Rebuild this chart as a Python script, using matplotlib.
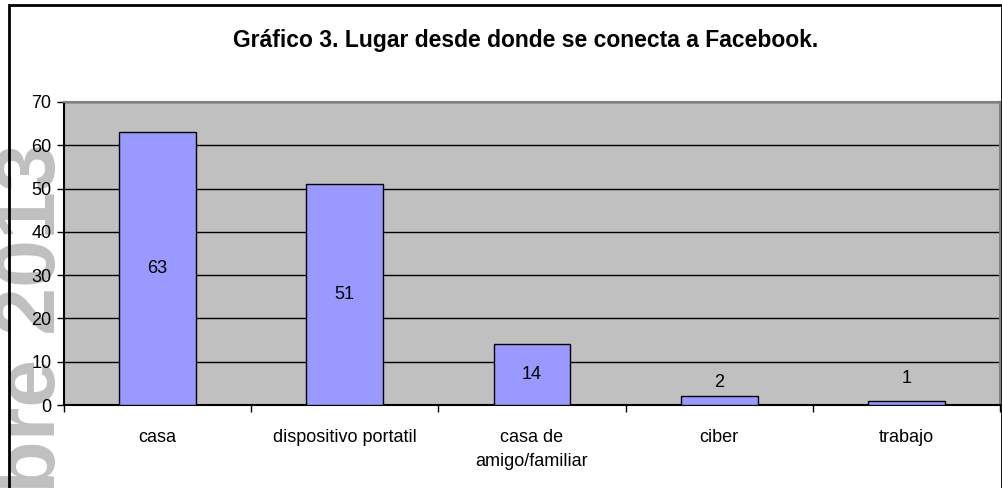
import matplotlib
matplotlib.use('Agg')
import matplotlib.pyplot as plt
from matplotlib.patches import Rectangle
from matplotlib.ticker import FixedLocator, NullFormatter

# Datos del gráfico
categorias = ['casa', 'dispositivo portatil', 'casa de\namigo/familiar', 'ciber', 'trabajo']
valores = [63, 51, 14, 2, 1]
titulo = 'Gráfico 3. Lugar desde donde se conecta a Facebook.'
marca_agua = 'Octubre 2013'

plt.rcParams['font.family'] = ['Liberation Sans', 'DejaVu Sans']

fig = plt.figure(figsize=(10.03, 4.88), dpi=100)
fig.patch.set_facecolor('white')

# marca de agua al fondo, parcialmente cubierta por el área de trazado
fig.text(55 / 1003, 1 - 143 / 488, marca_agua, rotation=90, rotation_mode='anchor',
         ha='right', va='baseline', fontsize=62, fontweight='bold',
         color='#C0C0C0', zorder=-5)

ax = fig.add_axes([64 / 1003, 1 - 405 / 488, 936 / 1003, 303 / 488])
ax.set_facecolor('#C0C0C0')

x = list(range(len(categorias)))
ax.bar(x, valores, width=0.41, color='#9999FF', edgecolor='black', linewidth=1, zorder=3)

ax.set_xlim(-0.5, len(categorias) - 0.5)
ax.set_ylim(0, 70)
ax.set_yticks(range(0, 71, 10))
ax.yaxis.grid(True, color='black', linewidth=1)
ax.set_axisbelow(True)

# ticks de categorías entre barras, etiquetas centradas
ax.xaxis.set_major_locator(FixedLocator([i - 0.5 for i in range(len(categorias) + 1)]))
ax.xaxis.set_major_formatter(NullFormatter())
ax.xaxis.set_minor_locator(FixedLocator(x))
ax.set_xticklabels(categorias, minor=True, fontsize=13, linespacing=1.55)
ax.tick_params(axis='x', which='major', direction='out', length=5, width=1)
ax.tick_params(axis='x', which='minor', length=0, pad=17)
ax.tick_params(axis='y', direction='out', length=5, width=1, pad=4, labelsize=13)

for s in ['left', 'bottom']:
    ax.spines[s].set_color('black')
    ax.spines[s].set_linewidth(1.5)
for s in ['top', 'right']:
    ax.spines[s].set_color('#808080')
    ax.spines[s].set_linewidth(1.5)

# etiquetas de datos: al centro si caben, encima si la barra es pequeña
desplaz_px = [0, 0, 0, 14, 22]
for xi, v, d in zip(x, valores, desplaz_px):
    if d == 0:
        ax.text(xi, v / 2, str(v), ha='center', va='center', fontsize=13, zorder=4)
    else:
        ax.annotate(str(v), (xi, v), xytext=(0, d * 0.72), textcoords='offset points',
                    ha='center', va='center', fontsize=13, zorder=4)

fig.text(526 / 1003, 1 - 40 / 488, titulo, ha='center', va='center',
         fontsize=16.5, fontweight='bold')

# borde exterior del gráfico
fig.patches.append(Rectangle((9 / 1003, -0.1), 993 / 1003, 1.1 - 5 / 488,
                             transform=fig.transFigure, fill=False,
                             edgecolor='black', linewidth=2, zorder=10))

fig.savefig('out.png', dpi=100, facecolor='white')
